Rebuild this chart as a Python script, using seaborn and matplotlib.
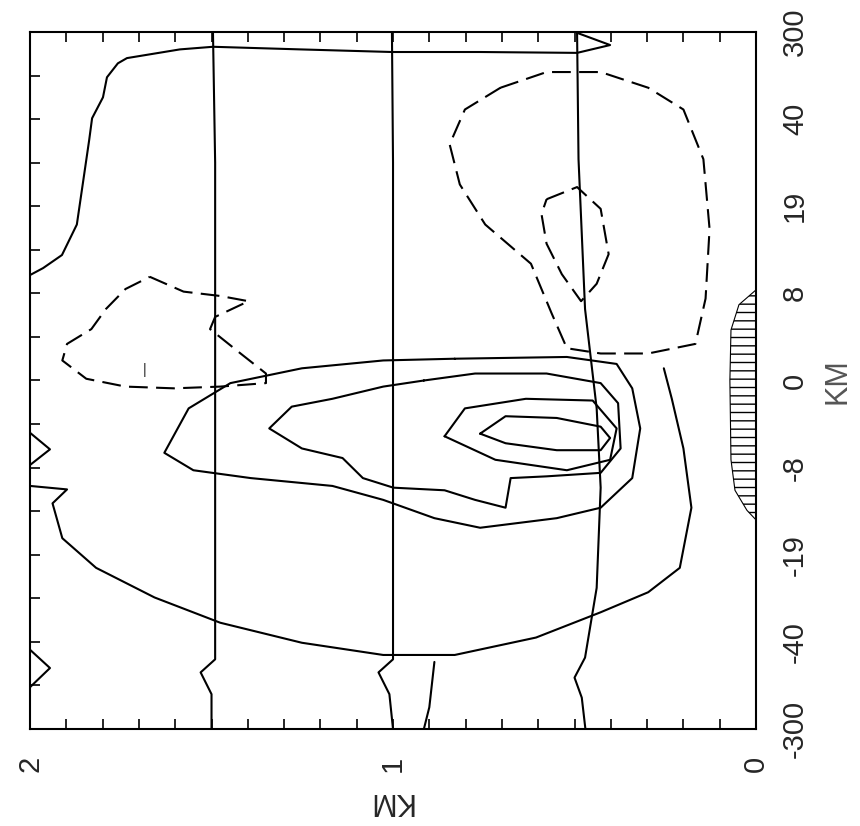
import numpy as np
import pandas as pd
import matplotlib
matplotlib.use("Agg")
import matplotlib.pyplot as plt
import seaborn as sns

sns.set_theme(style="white")
plt.rcParams['font.family'] = ['Liberation Sans', 'DejaVu Sans']

# axis labels
height_ticks = [0, 1, 2]
dist_labels = ["-300", "-40", "-19", "-8", "0", "8", "19", "40", "300"]
dist_pos = [-4, -3, -2, -1, 0, 1, 2, 3, 4]

# contours: height (km) and stretched distance index
L1_z = [1.496, 1.49, 1.49, 1.49, 1.49, 1.49, 1.53, 1.50, 1.50]
L1_s = [4.0, 2.5, 0.8, -0.9, -2.6, -3.2, -3.35, -3.6, -4.0]
L2_z = [1.003, 1.00, 1.00, 1.00, 1.00, 1.00, 1.04, 1.01, 1.00]
L2_s = [4.0, 2.5, 0.8, -0.9, -2.6, -3.2, -3.35, -3.6, -4.0]
L3_z = [0.493, 0.489, 0.471, 0.439, 0.428, 0.439, 0.471, 0.50, 0.48, 0.47]
L3_s = [4.0, 2.54, 0.82, -0.32, -1.23, -2.38, -3.18, -3.41, -3.64, -4.0]

D1_z = [0.704, 0.577, 0.428, 0.297, 0.200, 0.145, 0.128, 0.139, 0.167, 0.297, 0.428, 0.521, 0.563, 0.620, 0.746, 0.816, 0.844, 0.802, 0.704]
D1_s = [3.36, 3.54, 3.54, 3.36, 3.11, 2.54, 1.74, 0.94, 0.42, 0.31, 0.31, 0.37, 0.77, 1.34, 1.79, 2.25, 2.71, 3.11, 3.36]
D2_z = [0.577, 0.493, 0.428, 0.406, 0.439, 0.482, 0.535, 0.577, 0.591, 0.577]
D2_s = [2.08, 2.22, 1.97, 1.45, 1.11, 0.91, 1.22, 1.57, 1.91, 2.08]
D3_z = [1.670, 1.577, 1.476, 1.398, 1.490, 1.504, 1.420, 1.350, 1.350, 1.476, 1.603, 1.737, 1.845, 1.911, 1.898, 1.831, 1.791, 1.737, 1.670]
D3_s = [1.19, 1.02, 0.97, 0.91, 0.73, 0.59, 0.31, 0.08, -0.03, -0.07, -0.09, -0.07, 0.02, 0.23, 0.42, 0.59, 0.82, 1.05, 1.19]

S1_z = [2.0, 1.964, 1.912, 1.871, 1.851, 1.837, 1.829, 1.799, 1.788, 1.758, 1.733, 1.587, 1.496, 1.256, 1.003, 0.760, 0.493, 0.402, 0.493]
S1_s = [1.21, 1.29, 1.44, 1.79, 2.36, 2.76, 3.01, 3.25, 3.48, 3.64, 3.70, 3.80, 3.83, 3.80, 3.77, 3.77, 3.76, 3.85, 3.99]

S2_z = [0.760, 0.690, 0.549, 0.428, 0.402, 0.428, 0.549, 0.690, 0.760]
S2_s = [-0.61, -0.41, -0.43, -0.53, -0.66, -0.80, -0.80, -0.72, -0.61]
S3_z = [0.858, 0.802, 0.634, 0.450, 0.384, 0.402, 0.521, 0.718, 0.858]
S3_s = [-0.64, -0.32, -0.21, -0.23, -0.55, -0.91, -1.03, -0.91, -0.64]
S4_z = [0.915, 1.027, 1.167, 1.279, 1.341, 1.251, 1.139, 1.083, 0.999, 0.858, 0.774, 0.690, 0.676, 0.577, 0.428, 0.373, 0.380, 0.428, 0.577, 0.774, 0.915]
S4_s = [0.0, -0.07, -0.21, -0.30, -0.55, -0.78, -0.89, -1.12, -1.23, -1.26, -1.37, -1.46, -1.12, -1.10, -1.06, -0.78, -0.26, -0.03, 0.08, 0.08, 0.0]
S5_z = [0.830, 1.027, 1.251, 1.448, 1.563, 1.630, 1.550, 1.392, 1.167, 1.027, 0.886, 0.760, 0.549, 0.428, 0.341, 0.319, 0.341, 0.384, 0.521, 0.830]
S5_s = [0.25, 0.23, 0.14, -0.03, -0.32, -0.83, -1.03, -1.12, -1.21, -1.37, -1.58, -1.69, -1.58, -1.46, -1.12, -0.55, -0.09, 0.19, 0.27, 0.25]
S6_z = [2.0, 1.898, 1.938, 1.911, 1.818, 1.657, 1.476, 1.251, 1.027, 0.830, 0.606, 0.428, 0.297, 0.210, 0.178, 0.200, 0.232, 0.254]
S6_s = [-1.21, -1.25, -1.41, -1.81, -2.15, -2.49, -2.78, -3.01, -3.15, -3.15, -2.95, -2.66, -2.43, -2.15, -1.46, -0.78, -0.21, 0.14]
S7_z = [0.886, 0.900, 0.915]
S7_s = [-3.23, -3.75, -4.0]
S8_z = [2.0, 1.945, 2.0]
S8_s = [-3.09, -3.30, -3.52]
S9_z = [2.0, 1.945, 2.0]
S9_s = [-0.60, -0.79, -0.97]

T_s = [1.04, 0.87, 0.58, 0.0, -0.91, -1.26, -1.49, -1.6]
T_z = [0.0, 0.047, 0.069, 0.072, 0.069, 0.058, 0.025, 0.0]

fig = plt.figure(figsize=(8.6, 8.26), dpi=100)
ax = fig.add_axes([0.0349, 0.1174, 0.8442, 0.8439])

lw = 1.5
solid = [(L1_z, L1_s), (L2_z, L2_s), (L3_z, L3_s), (S1_z, S1_s), (S2_z, S2_s),
         (S3_z, S3_s), (S4_z, S4_s), (S5_z, S5_s), (S6_z, S6_s), (S7_z, S7_s),
         (S8_z, S8_s), (S9_z, S9_s)]
for z, s in solid:
    sns.lineplot(x=z, y=s, sort=False, estimator=None, color="black", lw=lw, ax=ax)
for z, s in [(D1_z, D1_s), (D2_z, D2_s), (D3_z, D3_s)]:
    sns.lineplot(x=z, y=s, sort=False, estimator=None, color="black", lw=lw, ax=ax)
    ax.lines[-1].set_dashes((9, 4))

ax.fill_betweenx(T_s, T_z, 0, facecolor="none", edgecolor="black", hatch="--", lw=0.8)
ax.text(1.684, 0.12, "|", fontsize=10, ha="center", va="center")

ax.set_xlim(2, 0)
ax.set_ylim(-4, 4)
for sp in ax.spines.values():
    sp.set_color("black")
    sp.set_linewidth(1.5)

ax.set_xticks(height_ticks)
ax.set_xticklabels([str(t) for t in height_ticks], rotation=90, fontsize=21)
ax.set_xticks(np.arange(0, 2.01, 0.1), minor=True)
ax.set_yticks(dist_pos)
ax.set_yticklabels(dist_labels, rotation=90, va="center", fontsize=21)
ax.set_yticks([p + 0.5 for p in dist_pos[:-1]], minor=True)
ax.tick_params(axis="x", which="both", direction="in", top=True, bottom=True,
               length=7, width=1.2, color="black", pad=19)
ax.tick_params(axis="y", which="both", direction="in", left=True, right=False,
               labelleft=False, labelright=True, length=7, width=1.2, color="black", pad=18)
ax.set_xlabel("")
ax.set_ylabel("")

fig.text(838 / 860, 1 - 381 / 826, "KM", rotation=90, fontsize=22, ha="center", va="center", color="#555555")
fig.text(390 / 860, 1 - 801 / 826, "KM", rotation=180, fontsize=22, ha="center", va="center")

fig.savefig("out.png", dpi=100)
